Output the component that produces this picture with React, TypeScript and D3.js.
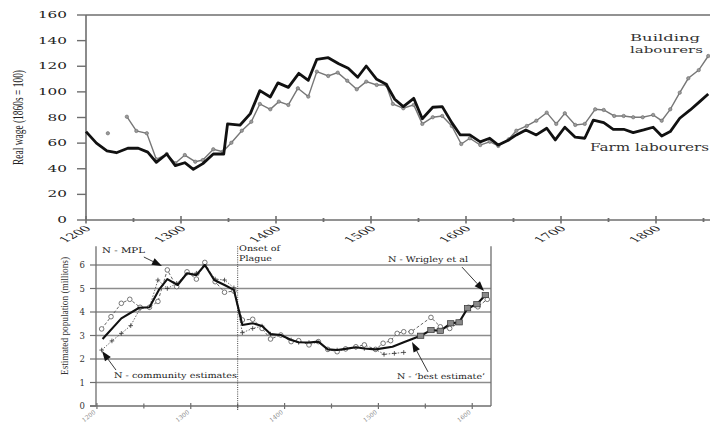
import React from "react";
import * as d3 from "d3";

// ---------- Top chart data: real wages (1860s = 100) ----------
const farmYears = [1200,1211,1222,1232,1244,1255,1265,1274,1285,1294,1304,1313,1323,1334,1345,1349,1362,1373,1383,1394,1402,1413,1424,1434,1443,1455,1466,1476,1486,1495,1506,1516,1525,1534,1545,1554,1565,1575,1585,1594,1604,1615,1625,1634,1645,1653,1663,1674,1685,1694,1704,1715,1725,1734,1745,1755,1766,1776,1787,1797,1806,1815,1825,1836,1846,1855];
const farmWage = [69,60,54,52.5,56,56,53,45,51.5,42.4,44.7,39.6,44,51.5,51.5,75,74,83,101,96,107,103.5,114.5,109,125.4,126.7,122,118.4,111.4,120.2,109.8,106,94.2,88.5,95,79,88,88.5,76,66.4,66.4,61,63.8,58.5,62.5,66.4,70.3,66.4,71.6,62.5,72.4,64.6,63.8,78,76,70.8,70.8,68.2,70.3,72.4,65.6,69,79.4,85.9,92.4,98.4];

const buildYears = [1223,1233,1243,1253,1264,1274,1285,1294,1304,1315,1323,1334,1344,1353,1364,1374,1383,1394,1403,1413,1423,1434,1443,1455,1465,1475,1485,1495,1506,1516,1523,1534,1545,1554,1565,1575,1585,1595,1604,1615,1625,1634,1645,1653,1664,1674,1685,1695,1704,1715,1725,1736,1745,1756,1766,1776,1786,1797,1806,1815,1825,1834,1845,1855];
const buildWage: (number | null)[] = [67.7,null,80.6,69.5,67.7,47.4,51.5,44.3,50.7,45.5,46.8,55.2,53.3,60.3,69.7,76.7,90.6,86.4,92.4,89.8,102.8,96.3,115.8,112.4,115,108.7,102,108,105.4,105.4,90.6,87.2,89.8,75,80.2,81.2,73.4,59.3,63.8,58.5,61.1,57.8,63,69.7,73.4,77.5,83.8,75,83.3,74.2,75,86.4,85.9,81.2,81.2,80.2,80.2,82,77.5,86.4,99.4,110.6,117,128];

const topMajorTicks = [1200,1300,1400,1500,1600,1700,1800];
const topMinorTicks = [1250,1350,1450,1550,1650,1750,1850];
const wageTicks = [0,20,40,60,80,100,120,140,160];

// ---------- Bottom chart data: estimated population (millions) ----------
const bestYears = [1206,1226,1245,1256,1266,1275,1286,1296,1306,1315,1325,1336,1346,1355,1366,1376,1385,1396,1407,1415,1426,1436,1446,1456,1465,1476,1485,1497,1515,1527,1545,1556,1566,1577,1586,1595,1605,1614];
const bestPop = [2.85,3.73,4.18,4.2,4.94,5.4,5.15,5.65,5.57,6.0,5.36,5.15,4.94,3.45,3.52,3.4,3.06,3.02,2.81,2.71,2.7,2.74,2.41,2.38,2.43,2.5,2.45,2.41,2.52,2.71,2.99,3.23,3.2,3.52,3.56,4.16,4.33,4.72];

const mplYears = [1205,1215,1226,1235,1246,1256,1265,1275,1285,1296,1306,1315,1326,1336,1346,1355,1366,1376,1385,1396,1407,1415,1426,1436,1446,1456,1465,1476,1485,1497,1505,1513,1520,1527,1535,1556,1566,1576,1586,1596,1606,1616];
const mplPop = [3.28,3.8,4.37,4.54,4.2,4.2,4.45,5.79,5.08,5.71,5.4,6.11,5.29,4.84,4.89,3.66,3.69,3.3,2.85,3.02,2.74,2.78,2.6,2.74,2.41,2.31,2.43,2.52,2.6,2.41,2.67,2.78,3.09,3.16,3.16,3.77,3.37,3.3,3.56,4.2,4.22,4.54];

const commYears = [1205,1216,1226,1236,1246,1256,1265,1275,1285,1296,1306,1315,1326,1336,1346,1355,1366,1376,1385,1396,1407,1415,1426,1436,1446,1456,1465,1476,1485,1497,1506,1517,1527];
const commPop = [2.38,2.77,3.09,3.42,4.15,4.2,5.36,5.0,5.22,5.65,5.65,6.0,5.4,5.36,5.03,3.12,3.3,3.4,3.06,3.02,2.81,2.71,2.7,2.74,2.41,2.38,2.43,2.5,2.45,2.41,2.2,2.24,2.28];

const wrigleyYears = [1545,1556,1566,1577,1586,1595,1605,1614];
const wrigleyPop = [2.99,3.23,3.2,3.52,3.56,4.16,4.33,4.72];

const botMajorTicks = [1200,1300,1400,1500,1600];
const botMinorTicks = [1250,1350,1450,1550];
const popTicks = [0,1,2,3,4,5,6];
const plagueYear = 1350;

const SERIF_WIDE = "'DejaVu Serif', serif";
const SERIF = "'Liberation Serif', 'Times New Roman', serif";

type Pt = [number, number | null];

function Arrow({ x1, y1, x2, y2 }: { x1: number; y1: number; x2: number; y2: number }) {
  const dx = x2 - x1, dy = y2 - y1;
  const len = Math.hypot(dx, dy);
  const ux = dx / len, uy = dy / len;
  const hl = 10, hw = 3.6;
  const bx = x2 - ux * hl, by = y2 - uy * hl;
  const pts = [
    [x2, y2],
    [bx - uy * hw, by + ux * hw],
    [bx + uy * hw, by - ux * hw],
  ];
  return (
    <g>
      <line x1={x1} y1={y1} x2={bx} y2={by} stroke="#222" strokeWidth={0.9} />
      <polygon points={pts.map((p) => p.join(",")).join(" ")} fill="#111" />
    </g>
  );
}

export default function App() {
  // top scales
  const xT = d3.scaleLinear().domain([1200, 1860]).range([86, 713]);
  const yT = d3.scaleLinear().domain([0, 160]).range([220, 15]);
  // bottom scales
  const xB = d3.scaleLinear().domain([1199, 1620]).range([96, 491]);
  const yB = d3.scaleLinear().domain([0, 6.8]).range([406, 246.2]);

  const farm: Pt[] = farmYears.map((y, i) => [y, farmWage[i]]);
  const build: Pt[] = buildYears.map((y, i) => [y, buildWage[i]]);
  const lineT = d3
    .line<Pt>()
    .defined((d) => d[1] != null)
    .x((d) => xT(d[0]))
    .y((d) => yT(d[1] as number));

  const best: Pt[] = bestYears.map((y, i) => [y, bestPop[i]]);
  const mpl: Pt[] = mplYears.map((y, i) => [y, mplPop[i]]);
  const comm: Pt[] = commYears.map((y, i) => [y, commPop[i]]);
  const wrig: Pt[] = wrigleyYears.map((y, i) => [y, wrigleyPop[i]]);
  const lineB = d3
    .line<Pt>()
    .x((d) => xB(d[0]))
    .y((d) => yB(d[1] as number));

  const axisCol = "#6e6e6e";

  return (
    <svg
      width={710}
      height={423}
      style={{ position: "fixed", left: 0, top: 0, background: "#fff" }}
    >
      <rect x={0} y={0} width={710} height={423} fill="#fff" />

      {/* ===================== TOP CHART ===================== */}
      <line x1={xT(1200)} y1={yT(160)} x2={710} y2={yT(160)} stroke={axisCol} strokeWidth={1.6} />
      <line x1={xT(1200)} y1={yT(160)} x2={xT(1200)} y2={yT(0)} stroke={axisCol} strokeWidth={1.6} />
      <line x1={xT(1200)} y1={yT(0)} x2={710} y2={yT(0)} stroke={axisCol} strokeWidth={1.6} />
      {wageTicks.map((t) => (
        <g key={"wt" + t}>
          <line x1={xT(1200) - 9} x2={xT(1200)} y1={yT(t)} y2={yT(t)} stroke={axisCol} strokeWidth={1.4} />
          <text
            x={67 - String(t).length * 9.7}
            y={yT(t) + 3}
            fontFamily={SERIF_WIDE}
            fontSize={8.5}
            fill="#222"
            textLength={String(t).length * 9.7}
            lengthAdjust="spacingAndGlyphs"
          >
            {t}
          </text>
        </g>
      ))}
      {topMajorTicks.map((t) => (
        <g key={"tt" + t}>
          <line x1={xT(t)} x2={xT(t)} y1={yT(0) - 4} y2={yT(0) + 3.5} stroke={axisCol} strokeWidth={1.6} />
          <text
            transform={`translate(${xT(t) + 6},${yT(0) + 9}) scale(1.9,1) rotate(-45)`}
            textAnchor="end"
            fontFamily={SERIF_WIDE}
            fontSize={7.8}
            fill="#222"
          >
            {t}
          </text>
        </g>
      ))}
      {topMinorTicks.map((t) => (
        <line key={"tm" + t} x1={xT(t)} x2={xT(t)} y1={yT(0) - 2} y2={yT(0) + 2} stroke={axisCol} strokeWidth={1.8} />
      ))}
      <text
        transform={`translate(23,117.5) scale(1.9,1) rotate(-90)`}
        textAnchor="middle"
        fontFamily={SERIF}
        fontSize={8}
        fill="#222"
        textLength={95}
        lengthAdjust="spacingAndGlyphs"
      >
        Real wage (1860s = 100)
      </text>

      <path d={lineT(build) || ""} fill="none" stroke="#777" strokeWidth={1.4} />
      {build
        .filter((d) => d[1] != null)
        .map((d, i) => (
          <circle key={"bm" + i} cx={xT(d[0])} cy={yT(d[1] as number)} r={1.7} fill="#9a9a9a" stroke="#6a6a6a" strokeWidth={0.6} />
        ))}
      <path d={lineT(farm) || ""} fill="none" stroke="#111" strokeWidth={2.8} strokeLinejoin="round" />

      <text x={630} y={41} fontFamily={SERIF_WIDE} fontSize={10} fill="#333" textLength={70} lengthAdjust="spacingAndGlyphs">
        Building
      </text>
      <text x={630} y={52.5} fontFamily={SERIF_WIDE} fontSize={10} fill="#333" textLength={73} lengthAdjust="spacingAndGlyphs">
        labourers
      </text>
      <text x={590} y={151} fontFamily={SERIF_WIDE} fontSize={10.5} fill="#333" textLength={119} lengthAdjust="spacingAndGlyphs">
        Farm labourers
      </text>

      {/* ===================== BOTTOM CHART ===================== */}
      {popTicks.slice(1).map((t) => (
        <line key={"g" + t} x1={xB(1199)} x2={xB(1620)} y1={yB(t)} y2={yB(t)} stroke="#8c8c8c" strokeWidth={1.3} />
      ))}
      <line x1={xB(1199)} y1={yB(6.8)} x2={xB(1199)} y2={yB(0)} stroke={axisCol} strokeWidth={1.3} />
      <line x1={xB(1620)} y1={yB(6.8)} x2={xB(1620)} y2={yB(0)} stroke={axisCol} strokeWidth={1.3} />
      <line x1={xB(1199) - 6} y1={yB(0)} x2={xB(1620)} y2={yB(0)} stroke={axisCol} strokeWidth={1.3} />
      {popTicks.map((t) => (
        <g key={"pt" + t}>
          <line x1={xB(1199) - 6} x2={xB(1199)} y1={yB(t)} y2={yB(t)} stroke={axisCol} strokeWidth={1.2} />
          <text x={85} y={yB(t) + 3} textAnchor="end" fontFamily={SERIF_WIDE} fontSize={8.5} fill="#333">
            {t}
          </text>
        </g>
      ))}
      {botMajorTicks.map((t) => (
        <g key={"bt" + t}>
          <line x1={xB(t)} x2={xB(t)} y1={yB(0) - 3} y2={yB(0) + 3} stroke={axisCol} strokeWidth={1.2} />
          <text
            transform={`translate(${xB(t) - 1},${yB(0) + 7}) rotate(-38)`}
            textAnchor="end"
            fontFamily={SERIF_WIDE}
            fontSize={6}
            fill="#888"
          >
            {t}
          </text>
        </g>
      ))}
      {botMinorTicks.map((t) => (
        <line key={"bm" + t} x1={xB(t)} x2={xB(t)} y1={yB(0) - 2.5} y2={yB(0) + 2.5} stroke={axisCol} strokeWidth={1.2} />
      ))}
      <line
        x1={xB(plagueYear)}
        x2={xB(plagueYear)}
        y1={yB(6.8)}
        y2={yB(0) + 5}
        stroke="#444"
        strokeWidth={1}
        strokeDasharray="1,1.2"
      />
      <text
        transform={`translate(68,316) rotate(-90)`}
        textAnchor="middle"
        fontFamily={SERIF}
        fontSize={9.5}
        fill="#333"
        textLength={118}
        lengthAdjust="spacingAndGlyphs"
      >
        Estimated population (millions)
      </text>

      <path d={lineB(comm) || ""} fill="none" stroke="#444" strokeWidth={0.8} strokeDasharray="1.5,1.5" />
      {comm.map((d, i) => {
        const cx = xB(d[0]), cy = yB(d[1] as number);
        return (
          <path key={"cm" + i} d={`M${cx - 2.3},${cy}H${cx + 2.3}M${cx},${cy - 2.3}V${cy + 2.3}`} stroke="#333" strokeWidth={0.8} />
        );
      })}
      <path d={lineB(mpl) || ""} fill="none" stroke="#555" strokeWidth={0.9} strokeDasharray="3,2" />
      {mpl.map((d, i) => (
        <circle key={"mm" + i} cx={xB(d[0])} cy={yB(d[1] as number)} r={2.3} fill="#fff" stroke="#555" strokeWidth={0.8} />
      ))}
      <path d={lineB(best) || ""} fill="none" stroke="#111" strokeWidth={2.1} strokeLinejoin="round" />
      {wrig.map((d, i) => (
        <rect key={"wm" + i} x={xB(d[0]) - 3.2} y={yB(d[1] as number) - 2.6} width={6.4} height={5.2} fill="#8a8a8a" stroke="#333" strokeWidth={0.7} />
      ))}

      <text x={102} y={253} fontFamily={SERIF_WIDE} fontSize={7.8} fill="#222" textLength={43} lengthAdjust="spacingAndGlyphs">
        N - MPL
      </text>
      <Arrow x1={xB(1250)} y1={yB(6.34)} x2={xB(1269.3)} y2={yB(5.96)} />
      <text x={114} y={378} fontFamily={SERIF_WIDE} fontSize={7.8} fill="#222" textLength={123} lengthAdjust="spacingAndGlyphs">
        N - community estimates
      </text>
      <Arrow x1={xB(1220.3)} y1={yB(1.53)} x2={xB(1205.4)} y2={yB(2.34)} />
      <text x={239} y={251} fontFamily={SERIF_WIDE} fontSize={7.8} fill="#222" textLength={41} lengthAdjust="spacingAndGlyphs">
        Onset of
      </text>
      <text x={239} y={261} fontFamily={SERIF_WIDE} fontSize={7.8} fill="#222" textLength={33} lengthAdjust="spacingAndGlyphs">
        Plague
      </text>
      <text x={388} y={262} fontFamily={SERIF_WIDE} fontSize={7.8} fill="#222" textLength={80} lengthAdjust="spacingAndGlyphs">
        N - Wrigley et al
      </text>
      <Arrow x1={xB(1589.1)} y1={yB(5.91)} x2={xB(1612.6)} y2={yB(4.89)} />
      <text x={397} y={379} fontFamily={SERIF_WIDE} fontSize={7.8} fill="#222" textLength={88} lengthAdjust="spacingAndGlyphs">
        N - ‘best estimate’
      </text>
      <Arrow x1={xB(1552.9)} y1={yB(1.45)} x2={xB(1535.8)} y2={yB(2.72)} />
    </svg>
  );
}
